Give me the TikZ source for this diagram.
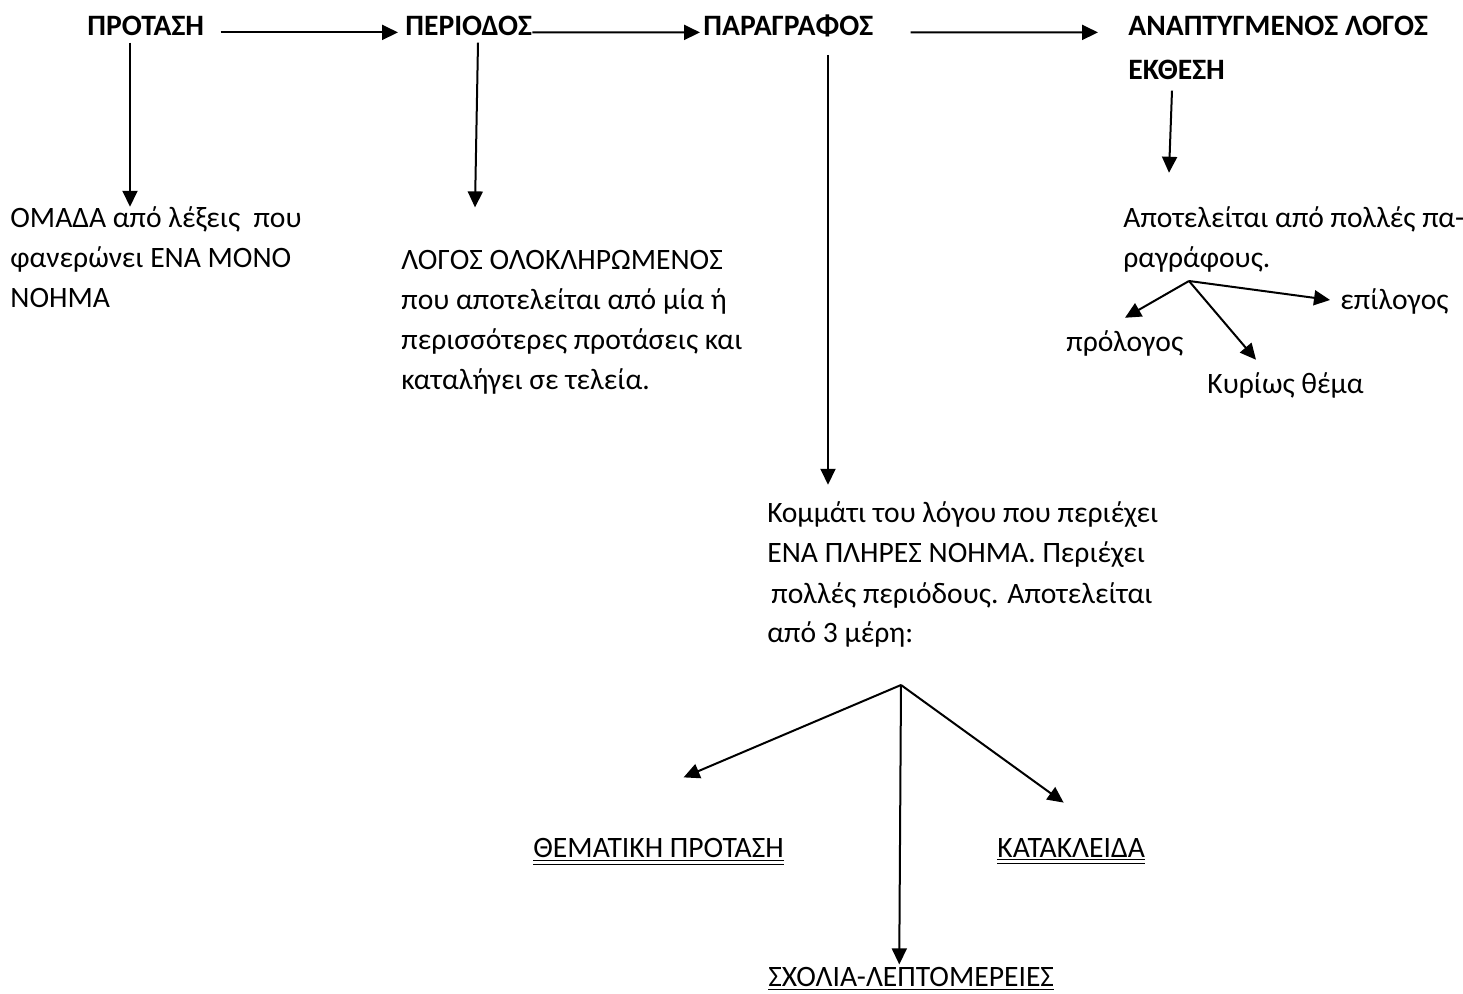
\documentclass[tikz,border=0pt]{standalone}
\usepackage{fontspec}
\setmainfont{Carlito}
\usetikzlibrary{positioning,arrows.meta}

\begin{document}
\begin{tikzpicture}[
    x=0.5pt,y=-0.5pt,
    txt/.style={inner sep=0pt,anchor=base west,align=left,font=\fontsize{14.8}{20}\selectfont},
    head/.style={txt,font=\fontsize{14.8}{20}\selectfont\bfseries},
    arr/.style={-{Triangle[length=8pt,width=7.5pt]},line width=1pt}
  ]
    \useasboundingbox (0,0) rectangle (1463,994);
    % top row
    \node[head] (protasi)    at (87,36)   {ΠΡΟΤΑΣΗ};
    \node[head] (periodos)   at (405,36)  {ΠΕΡΙΟΔΟΣ};
    \node[head] (paragrafos) at (703,36)  {ΠΑΡΑΓΡΑΦΟΣ};
    \node[head] (anapt)      at (1128,36) {ΑΝΑΠΤΥΓΜΕΝΟΣ ΛΟΓΟΣ};
    \node[head] (ekthesi)    at (1128,80) {ΕΚΘΕΣΗ};
    % explanations (placed at the baseline of their last line)
    \node[txt] (omada)   at (10,308)  {ΟΜΑΔΑ από λέξεις~ που\\φανερώνει ΕΝΑ ΜΟΝΟ\\ΝΟΗΜΑ};
    \node[txt] (logos)   at (401,390) {ΛΟΓΟΣ ΟΛΟΚΛΗΡΩΜΕΝΟΣ\\που αποτελείται από μία ή\\περισσότερες προτάσεις και\\καταλήγει σε τελεία.};
    \node[txt] (kommati) at (767,643) {Κομμάτι του λόγου που περιέχει\\ΕΝΑ ΠΛΗΡΕΣ ΝΟΗΜΑ. Περιέχει\\\hspace*{2pt}πολλές περιόδους. Αποτελείται\\από 3 μέρη:};
    \node[txt] (apotel)  at (1123,268) {Αποτελείται από πολλές πα-\\ραγράφους.};
    \node[txt] (prologos) at (1066,352) {πρόλογος};
    \node[txt] (epilogos) at (1340,310) {επίλογος};
    \node[txt] (kyrios)   at (1207,394) {Κυρίως θέμα};
    % parts of the paragraph
    \node[txt] (thematiki) at (533,857) {\underline{\underline{ΘΕΜΑΤΙΚΗ ΠΡΟΤΑΣΗ}}};
    \node[txt] (kataklida) at (997,857) {\underline{\underline{ΚΑΤΑΚΛΕΙΔΑ}}};
    \node[txt] (scholia)   at (768,986) {\underline{ΣΧΟΛΙΑ-ΛΕΠΤΟΜΕΡΕΙΕΣ}};
    \coordinate (split) at (1189,281);
    \coordinate (fork)  at (901,685);

    \draw[arr] ([xshift=8pt,yshift=-3pt]protasi.east) -- ([xshift=-3.5pt,yshift=-3pt]periodos.west);
    \draw[arr] ([yshift=-3pt]periodos.east) -- ([xshift=-1.5pt,yshift=-3pt]paragrafos.west);
    \draw[arr] ([xshift=18.5pt,yshift=-3pt]paragrafos.east) -- ([xshift=-15pt,yshift=-3pt]anapt.west);

    \draw[arr] ([xshift=21.5pt,yshift=-3pt]protasi.south west) -- ([xshift=60pt]omada.north west);
    \draw[arr] ([xshift=36.5pt,yshift=-3pt]periodos.south west) -- ([xshift=37pt,yshift=21.5pt]logos.north west);
    \draw[arr] ([xshift=62.5pt,yshift=-8.5pt]paragrafos.south west) -- ([xshift=30.5pt,yshift=8.5pt]kommati.north west);
    \draw[arr] ([xshift=22pt,yshift=-5pt]ekthesi.south west) -- ([xshift=23pt,yshift=17pt]apotel.north west);

    \draw[arr] (split) -- ([xshift=29.5pt,yshift=6.5pt]prologos.north west);
    \draw[arr] (split) -- ([xshift=-5pt,yshift=1pt]epilogos.west);
    \draw[arr] (split) -- ([xshift=24.5pt,yshift=6.5pt]kyrios.north west);

    \draw[arr] (fork) -- ([xshift=12.5pt,yshift=30pt]thematiki.north);
    \draw[arr] (fork) -- ([xshift=-6pt,yshift=1pt]scholia.north);
    \draw[arr] (fork) -- ([xshift=-3.75pt,yshift=17.5pt]kataklida.north);
\end{tikzpicture}
\end{document}
